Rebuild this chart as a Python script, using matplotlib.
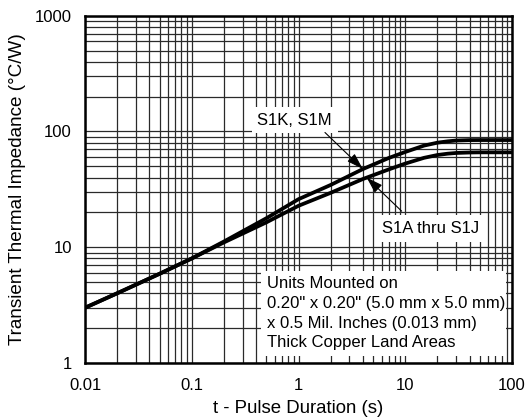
import matplotlib
matplotlib.use("Agg")
import matplotlib.pyplot as plt
from matplotlib.patches import Rectangle
from matplotlib.ticker import FixedLocator, NullFormatter

plt.rcParams['font.family'] = ['Liberation Sans', 'DejaVu Sans']

# Data
t = [0.01, 0.02, 0.05, 0.1, 0.2, 0.5, 1, 2, 4, 7, 10, 15, 20, 25, 30, 40, 50, 100]
z_s1k_s1m = [3.0, 4.0, 5.9, 8.0, 11.2, 17.8, 26.0, 34.5, 47.3, 59.0, 66.5, 75.5, 80.0, 82.2, 83.5, 84.2, 84.3, 84.3]
z_s1a_s1j = [3.0, 4.0, 5.9, 8.0, 11.0, 16.4, 22.8, 29.5, 38.8, 47.0, 52.8, 59.2, 62.6, 64.3, 65.2, 65.8, 66.0, 66.0]

x_ticks = [0.01, 0.1, 1, 10, 100]
x_tick_labels = ["0.01", "0.1", "1", "10", "100"]
y_ticks = [1, 10, 100, 1000]
y_tick_labels = ["1", "10", "100", "1000"]

label_upper = "S1K, S1M"
label_lower = "S1A thru S1J"
note_lines = ["Units Mounted on",
              "0.20\" x 0.20\" (5.0 mm x 5.0 mm)",
              "x 0.5 Mil. Inches (0.013 mm)",
              "Thick Copper Land Areas"]

fig = plt.figure(figsize=(5.27, 4.19), dpi=100)
ax = fig.add_axes([85/527, 1 - 363/419, (512-85)/527, (363-15.7)/419])

ax.set_xscale('log')
ax.set_yscale('log')
ax.set_xlim(0.01, 100)
ax.set_ylim(1, 1000)

ax.plot(t, z_s1k_s1m, color='black', lw=2.7, solid_capstyle='butt', zorder=4)
ax.plot(t, z_s1a_s1j, color='black', lw=2.7, solid_capstyle='butt', zorder=4)

ax.xaxis.set_major_locator(FixedLocator(x_ticks))
ax.set_xticklabels(x_tick_labels)
ax.yaxis.set_major_locator(FixedLocator(y_ticks))
ax.set_yticklabels(y_tick_labels)
ax.xaxis.set_minor_formatter(NullFormatter())
ax.yaxis.set_minor_formatter(NullFormatter())

ax.grid(True, which='both', color='#2a2a2a', lw=0.9)
ax.tick_params(which='both', length=0)
ax.tick_params(axis='x', pad=10.5, labelsize=12)
ax.tick_params(axis='y', pad=9.5, labelsize=12)

for s in ax.spines.values():
    s.set_linewidth(1.8)
    s.set_zorder(5)

ax.set_xlabel("t - Pulse Duration (s)", fontsize=13.4, labelpad=5.5)
ax.set_ylabel("Transient Thermal Impedance (°C/W)", fontsize=13.6, labelpad=6)

# white note box
ax.add_patch(Rectangle((0.412, 0.02), 0.575, 0.245, transform=ax.transAxes,
                       facecolor='white', edgecolor='none', zorder=3))
ys = [0.215, 0.1575, 0.0999, 0.0452]
for line, yy in zip(note_lines, ys):
    ax.text(0.4255, yy, line, transform=ax.transAxes, fontsize=12,
            ha='left', va='baseline', zorder=4)

bb = dict(boxstyle='square,pad=0.35', facecolor='white', edgecolor='none')
ax.text(0.921, 125.5, label_upper, fontsize=12, ha='center', va='center',
        bbox=bb, zorder=4)
ax.text(17.2, 14.6, label_lower, fontsize=12, ha='center', va='center',
        bbox=bb, zorder=4)

ap = dict(arrowstyle='-|>,head_length=1.0,head_width=0.32', lw=0.8,
          color='black', shrinkA=0, shrinkB=0)
ax.annotate("", xy=(4.0, 47.5), xytext=(1.77, 98), arrowprops=ap, zorder=6)
ax.annotate("", xy=(4.35, 40.0), xytext=(9.25, 20.5), arrowprops=ap, zorder=6)

fig.savefig("out.png", dpi=100)
